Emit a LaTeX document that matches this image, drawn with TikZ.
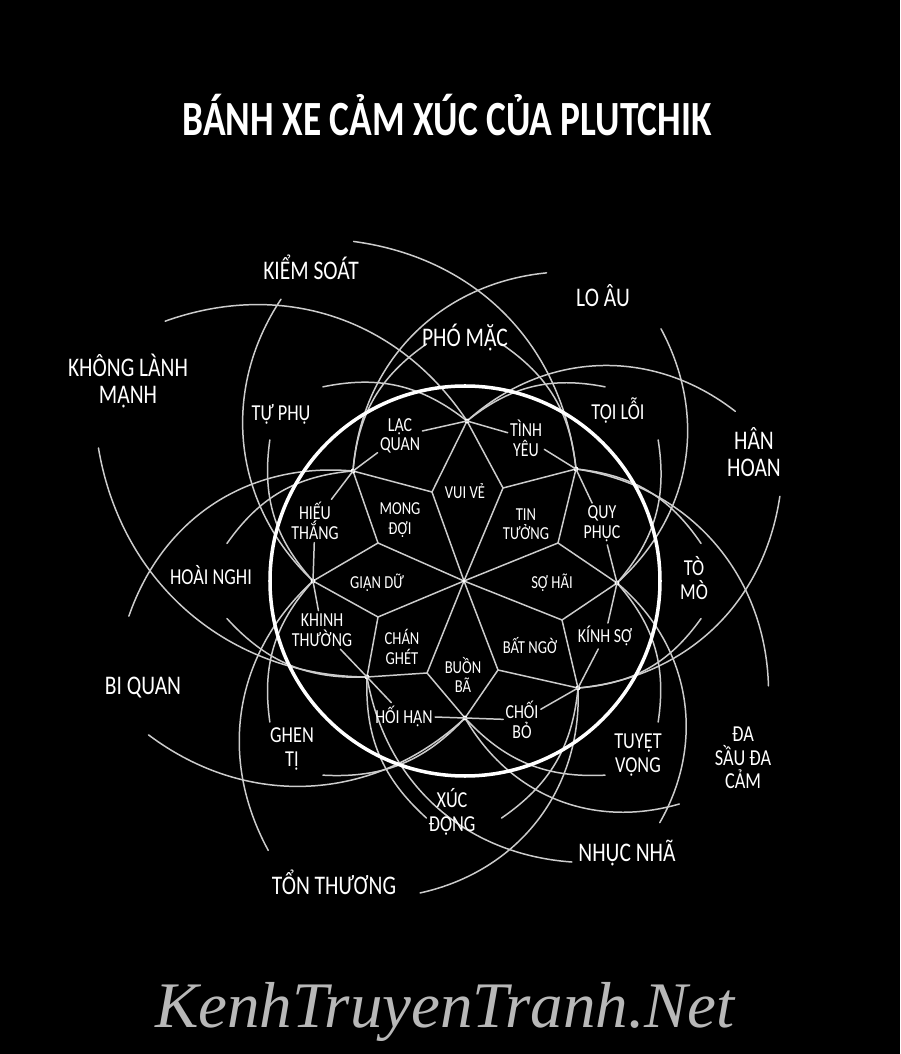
\documentclass[tikz,border=0pt]{standalone}
\usepackage{fontspec}
\newfontfamily\handfont{Carlito}
\newfontfamily\markfont{Liberation Serif}
\usetikzlibrary{calc}

\tikzset{
  wire/.style={line width=0.85pt, draw=white!80!black, line cap=round},
  rim/.style={line width=2pt, draw=white},
  lbl/.style={text=white, align=center, inner sep=1.5pt, xscale=0.8},
  basic/.style={lbl, font=\handfont\fontsize{10.4}{11}\selectfont},
  dyad/.style={lbl, font=\handfont\fontsize{11.3}{11.2}\selectfont},
  dyadtwo/.style={lbl, font=\handfont\fontsize{13}{13.4}\selectfont},
  dyadthree/.style={lbl, font=\handfont\fontsize{15.3}{15}\selectfont},
}

\begin{document}
\begin{tikzpicture}[x=0.02cm, y=0.02cm]
  \useasboundingbox (-464,-473) rectangle (436,581);
  \fill[black] (-464,-473) rectangle (436,581);

  % outer dots of the petals
  \coordinate (hub) at (0,0);
  \coordinate (d0) at (153,-2);
  \coordinate (d1) at (112,112);
  \coordinate (d2) at (3,160);
  \coordinate (d3) at (-111,110);
  \coordinate (d4) at (-151,0);
  \coordinate (d5) at (-97,-96);
  \coordinate (d6) at (1,-137);
  \coordinate (d7) at (114,-107);
  % inner corners between petals
  \coordinate (s0) at (94,38);
  \coordinate (s1) at (39,93);
  \coordinate (s2) at (-32,89);
  \coordinate (s3) at (-86,38);
  \coordinate (s4) at (-86,-36);
  \coordinate (s5) at (-37,-92);
  \coordinate (s6) at (34,-89);
  \coordinate (s7) at (98,-39);

  % petals
  \foreach \s/\p/\q in {0/0/1,1/1/2,2/2/3,3/3/4,4/4/5,5/5/6,6/6/7,7/7/0} {
    \draw[wire] (hub) -- (s\s);
    \draw[wire] (d\p) -- (s\s) -- (d\q);
  }

  % sweeping arcs from every dot (short pair, long pair)
  \foreach \k/\a/\pa/\pr/\ma/\mr in {0/0/52/320/-51/311, 1/45/108/357/-19/322,
      2/90/139/396/32/320, 3/135/186/337/75/319, 4/180/234/333/123/336,
      5/225/291/301/160/389, 6/270/314/310/206/351, 7/315/375/327/262/315} {
    \draw[wire] (d\k) to[bend right=25] ({\a+36}:240);
    \draw[wire] (d\k) to[bend left=25]  ({\a-36}:240);
    \draw[wire] (d\k) to[bend right=38] (\pa:\pr);
    \draw[wire] (d\k) to[bend left=40]  (\ma:\mr);
  }

  % big ring
  \draw[rim] (1,0) circle[radius=195];

  % dots
  \foreach \k in {0,...,7} \fill[white] (d\k) circle[radius=2.4];
  \fill[white] (hub) circle[radius=1.8];

  % title
  \node[text=white, font=\handfont\bfseries\fontsize{28}{28}\selectfont,
        xscale=0.76, anchor=base] (title) at (-17,445) {BÁNH XE CẢM XÚC CỦA PLUTCHIK};

  % primary emotions
  \node[basic] (vuive)    at (1,90)    {VUI VẺ};
  \node[basic] (tintuong) at (62,57)   {TIN\\TƯỞNG};
  \node[basic] (sohai)    at (88,-2)   {SỢ HÃI};
  \node[basic] (batngo)   at (66,-65)  {BẤT NGỜ};
  \node[basic] (buonba)   at (-1,-94)  {BUỒN\\BÃ};
  \node[basic] (changhet) at (-62,-66) {CHÁN\\GHÉT};
  \node[basic] (giandu)   at (-87,-2)  {GIẬN DỮ};
  \node[basic] (mongdoi)  at (-64,61)  {MONG\\ĐỢI};

  % primary dyads
  \node[dyad] (lacquan)     at (-64,145)  {LẠC\\QUAN};
  \node[dyad] (tinhyeu)     at (62,143)   {TÌNH\\YÊU};
  \node[dyad] (quyphuc)     at (138,57)   {QUY\\PHỤC};
  \node[dyad] (kinhso)      at (141,-55)  {KÍNH SỢ};
  \node[dyad] (choibo)      at (58,-139)  {CHỐI\\BỎ};
  \node[dyad] (hoihan)      at (-60,-135) {HỐI HẬN};
  \node[dyad] (khinhthuong) at (-142,-49) {KHINH\\THƯỜNG};
  \node[dyad] (hieuthang)   at (-149,60)  {HIẾU\\THẮNG};

  % secondary dyads
  \node[dyadthree] (phomac)  at (1,243)     {PHÓ MẶC};
  \node[dyadtwo] (toiloi)    at (154,170)   {TỘI LỖI};
  \node[dyadtwo] (tomo)      at (230,3)     {TÒ\\MÒ};
  \node[dyadtwo] (tuyetvong) at (174,-174)  {TUYỆT\\VỌNG};
  \node[dyadtwo] (xucdong)   at (-12,-231)  {XÚC\\ĐỘNG};
  \node[dyadtwo] (ghenti)    at (-172,-168) {GHEN\\TỊ};
  \node[dyadtwo] (hoainghi)  at (-253,6)    {HOÀI NGHI};
  \node[dyadtwo] (tuphu)     at (-183,167)  {TỰ PHỤ};

  % tertiary dyads
  \node[dyadthree] (kiemsoat)  at (-153,314)  {KIỂM SOÁT};
  \node[dyadthree] (loau)      at (139,285)   {LO ÂU};
  \node[dyadthree] (hanhoan)   at (290,129)   {HÂN\\HOAN};
  \node[dyadtwo] (dasau)       at (279,-177)  {ĐA\\SẦU ĐA\\CẢM};
  \node[dyadthree] (nhucnha)   at (163,-272)  {NHỤC NHÃ};
  \node[dyadthree] (tonthuong) at (-130,-301) {TỔN THƯƠNG};
  \node[dyadthree] (biquan)    at (-321,-107) {BI QUAN};
  \node[dyadthree] (khonglanh) at (-336,200)  {KHÔNG LÀNH\\MẠNH};

  % short strokes from the dyads to their dots
  \foreach \n/\k in {lacquan/2, lacquan/3, tinhyeu/2, tinhyeu/1, quyphuc/1, quyphuc/0,
                     kinhso/0, kinhso/7, choibo/7, choibo/6, hoihan/6, hoihan/5,
                     khinhthuong/5, khinhthuong/4, hieuthang/4, hieuthang/3}
    \draw[wire] (\n) -- (d\k);

  % watermark
  \node[text=white!72!black, font=\markfont\itshape\fontsize{37}{37}\selectfont,
        anchor=base] (mark) at (-19,-446) {KenhTruyenTranh.Net};
\end{tikzpicture}
\end{document}
